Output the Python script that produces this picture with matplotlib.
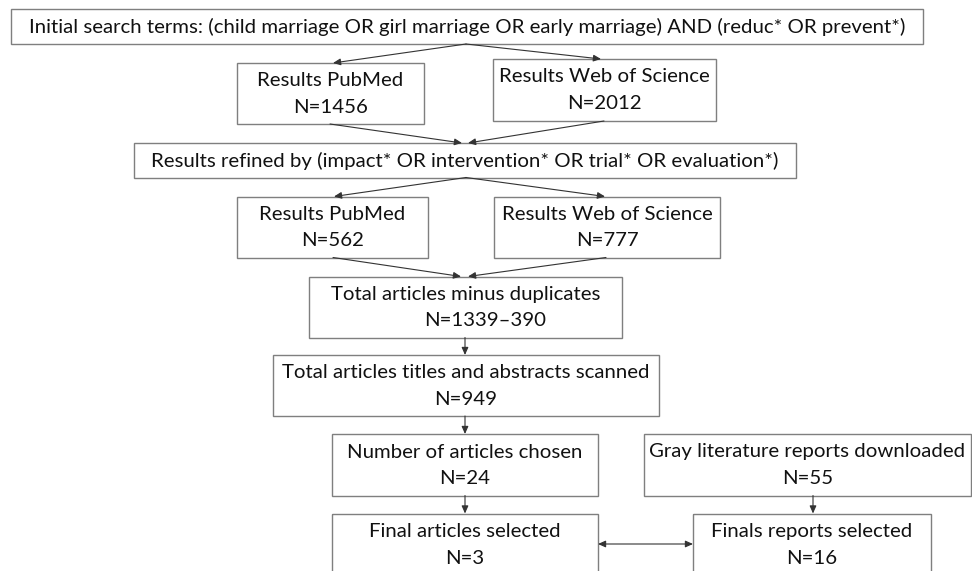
import matplotlib
matplotlib.use("Agg")
import matplotlib.pyplot as plt
from matplotlib.patches import Rectangle, FancyArrowPatch

# ---- data (box texts and counts) ----
search_terms = "Initial search terms: (child marriage OR girl marriage OR early marriage) AND (reduc* OR prevent*)"
refine_terms = "Results refined by (impact* OR intervention* OR trial* OR evaluation*)"
stage_labels = ["Results PubMed", "Results Web of Science",
                "Results PubMed", "Results Web of Science",
                "Total articles minus duplicates",
                "Total articles titles and abstracts scanned",
                "Number of articles chosen",
                "Gray literature reports downloaded",
                "Final articles selected",
                "Finals reports selected"]
stage_counts = ["N=1456", "N=2012", "N=562", "N=777", "N=1339\u2013390",
                "N=949", "N=24", "N=55", "N=3", "N=16"]

# ---- layout (pixel coordinates, y downward) ----
W, H = 972, 571
fig = plt.figure(figsize=(W / 100, H / 100), dpi=100)
ax = fig.add_axes([0, 0, 1, 1])
ax.set_xlim(0, W)
ax.set_ylim(H, 0)
ax.axis("off")

FONT = "Lato"
TXT = "#111111"
EDGE = "#7f7f7f"
LINE = "#333333"

# single-line boxes: (x0, y0, x1, y1)
box_top = (11, 9, 923, 44)
box_ref = (134, 143, 796, 177.5)
# two-line boxes
boxes = [
    (237, 63, 424, 124),
    (493, 59, 716, 121),
    (237, 196.5, 428, 257.5),
    (494, 196.5, 720, 257.5),
    (309, 276.5, 622, 337.5),
    (272.5, 355, 658.5, 416),
    (332, 434, 598, 495.5),
    (644, 434, 971, 495.5),
    (332, 513.5, 598, 580),
    (693, 513.5, 931, 580),
]

def draw_box(b):
    x0, y0, x1, y1 = b
    ax.add_patch(Rectangle((x0, y0), x1 - x0, y1 - y0, fill=False,
                           edgecolor=EDGE, linewidth=1.0, clip_on=True))

# fit font size so the top text spans ~882 px
probe = ax.text(0, 0, search_terms, fontsize=16, family=FONT)
fig.canvas.draw()
wpx = probe.get_window_extent().width
probe.remove()
fs = 16 * 882 / wpx

draw_box(box_top)
ax.text((box_top[0] + box_top[2]) / 2, 27, search_terms, ha="center", va="center",
        fontsize=fs, family=FONT, color=TXT)
draw_box(box_ref)
ax.text((box_ref[0] + box_ref[2]) / 2, 160.5, refine_terms, ha="center", va="center",
        fontsize=fs, family=FONT, color=TXT)

for i, (b, lab, n) in enumerate(zip(boxes, stage_labels, stage_counts)):
    draw_box(b)
    cx = (b[0] + b[2]) / 2
    ax.text(cx, b[1] + 18, lab, ha="center", va="center", fontsize=fs,
            family=FONT, color=TXT)
    ncx = cx + 20 if i == 4 else cx
    ax.text(ncx, b[1] + 44.5, n, ha="center", va="center", fontsize=fs,
            family=FONT, color=TXT)

def arrow(p0, p1, both=False):
    style = "<|-|>" if both else "-|>"
    ax.add_patch(FancyArrowPatch(p0, p1, arrowstyle=style + ",head_length=0.45,head_width=0.2",
                                 mutation_scale=10, color=LINE, linewidth=0.8,
                                 shrinkA=0, shrinkB=0))

arrow((466, 44), (333, 63))
arrow((466, 44), (601, 59))
arrow((330, 124), (462, 143))
arrow((604, 121), (468, 143))
arrow((466, 177.5), (334, 196.5))
arrow((466, 177.5), (605, 196.5))
arrow((333, 257.5), (461, 276.5))
arrow((606, 257.5), (468, 276.5))
arrow((465, 337.5), (465, 355))
arrow((465, 416), (465, 434))
arrow((465, 495.5), (465, 513.5))
arrow((813, 495.5), (813, 513.5))
arrow((598, 544), (693, 544), both=True)

fig.savefig("out.png", dpi=100, facecolor="white")
